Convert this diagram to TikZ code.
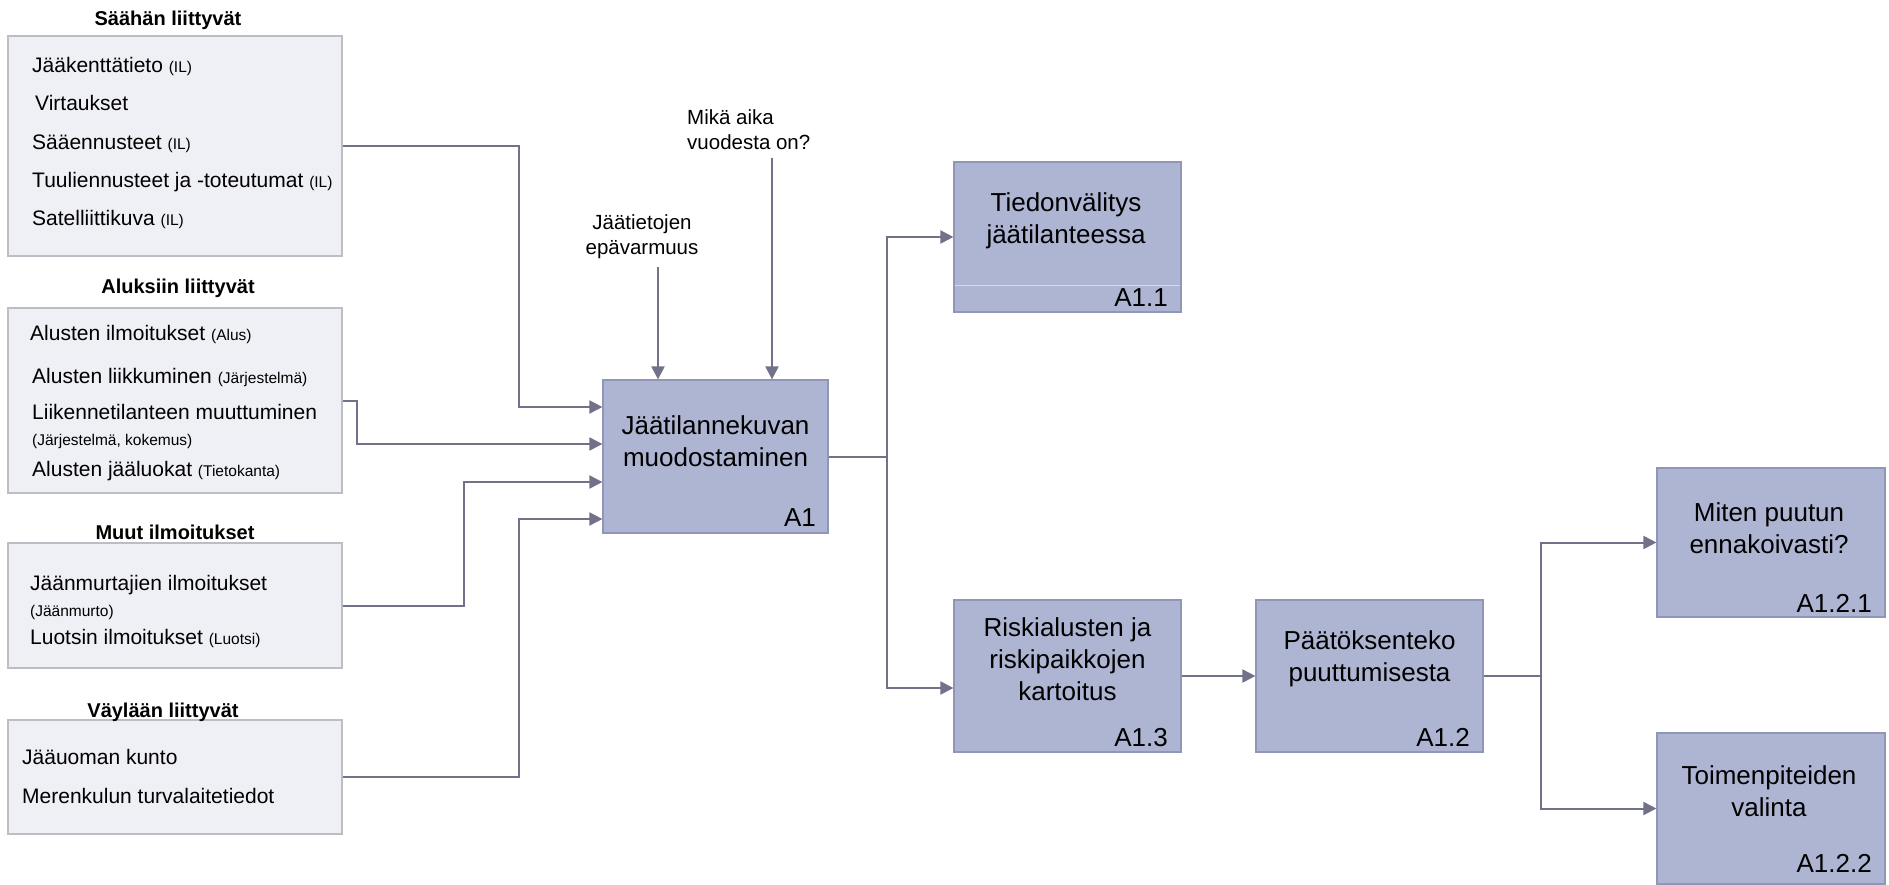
\documentclass[tikz,border=0pt]{standalone}
\usepackage{fontspec}
\setmainfont{Liberation Sans}
\usetikzlibrary{arrows.meta,calc}
\definecolor{procfill}{HTML}{AEB5D3}
\definecolor{procdraw}{HTML}{8F96B8}
\definecolor{grpfill}{HTML}{EFEFF6}
\definecolor{grpdraw}{HTML}{BDBDC6}
\definecolor{conncol}{HTML}{71718A}
\definecolor{divcol}{HTML}{D6D9EA}
\newcommand\smnote{\fontsize{15.5}{18}\selectfont}
\begin{document}
\begin{tikzpicture}[x=1pt,y=-1pt,
 proc/.style={draw=procdraw, fill=procfill, line width=1.2pt, inner sep=0pt, minimum width=227pt, minimum height=150pt},
 grp/.style={draw=grpdraw, fill=grpfill, line width=1.2pt, inner sep=0pt, minimum width=334pt},
 ptext/.style={align=center, font=\fontsize{26}{32}\selectfont, inner sep=0pt},
 plabel/.style={anchor=base east, font=\fontsize{26}{30}\selectfont, inner sep=0pt},
 grptitle/.style={font=\bfseries\fontsize{20}{24}\selectfont, inner sep=0pt},
 item/.style={anchor=base west, font=\fontsize{21}{24}\selectfont, inner sep=0pt},
 toplabel/.style={font=\fontsize{20.5}{25}\selectfont, inner sep=0pt},
 conn/.style={draw=conncol, line width=2pt, -{Triangle[length=13pt,width=13pt]}},
 plainconn/.style={draw=conncol, line width=2pt}
]
\useasboundingbox (0,0) rectangle (1889,884);
\fill[white] (0,0) rectangle (1889,884);

% group boxes
\node[grp, minimum height=220pt] (s1) at (175,146) {};
\node[grp, minimum height=185pt] (s2) at (175,400.5) {};
\node[grp, minimum height=125pt] (s3) at (175,605.5) {};
\node[grp, minimum height=114pt] (s4) at (175,777) {};

\node[grptitle] (t1) at (168,20) {Säähän liittyvät};
\node[grptitle] (t2) at (178,288) {Aluksiin liittyvät};
\node[grptitle] (t3) at (175,532) {Muut ilmoitukset};
\node[grptitle] (t4) at (163,712) {Väylään liittyvät};

\node[item] (i11) at (32,72) {Jääkenttätieto {\smnote(IL)}};
\node[item] (i12) at (35,110) {Virtaukset};
\node[item] (i13) at (32,149) {Sääennusteet {\smnote(IL)}};
\node[item] (i14) at (32,187) {Tuuliennusteet ja -toteutumat {\smnote(IL)}};
\node[item] (i15) at (32,225) {Satelliittikuva {\smnote(IL)}};

\node[item] (i21) at (30,340) {Alusten ilmoitukset {\smnote(Alus)}};
\node[item] (i22) at (32,383) {Alusten liikkuminen {\smnote(Järjestelmä)}};
\node[item] (i23) at (32,419) {Liikennetilanteen muuttuminen};
\node[item, font=\smnote] (i24) at (32,445) {(Järjestelmä, kokemus)};
\node[item] (i25) at (32,476) {Alusten jääluokat {\smnote(Tietokanta)}};

\node[item] (i31) at (30,590) {Jäänmurtajien ilmoitukset};
\node[item, font=\smnote] (i32) at (30,616) {(Jäänmurto)};
\node[item] (i33) at (30,644) {Luotsin ilmoitukset {\smnote(Luotsi)}};

\node[item] (i41) at (22,764) {Jääuoman kunto};
\node[item] (i42) at (22,803) {Merenkulun turvalaitetiedot};

% process boxes
\node[proc, minimum width=225pt, minimum height=153pt] (a1) at (715.5,456.5) {};
\node[ptext] (a1t) at (715.5,441) {Jäätilannekuvan\\muodostaminen};
\node[plabel] (a1l) at (816,526) {A1};

\node[proc] (a11) at (1067.5,237) {};
\draw[divcol, line width=1pt] (954.6,285) -- (1180.4,285);
\node[ptext] (a11t) at (1066,221) {Tiedonvälitys\\jäätilanteessa};
\node[plabel] (a11l) at (1168,306) {A1.1};

\node[proc, minimum height=152pt] (a13) at (1067.5,676) {};
\node[ptext] (a13t) at (1067.5,659) {Riskialusten ja\\riskipaikkojen\\kartoitus};
\node[plabel] (a13l) at (1168,746) {A1.3};

\node[proc, minimum height=152pt] (a12) at (1369.5,676) {};
\node[ptext] (a12t) at (1369.5,659) {Päätöksenteko\\puuttumisesta};
\node[plabel] (a12l) at (1470,746) {A1.2};

\node[proc, minimum width=228pt, minimum height=149pt] (a121) at (1771,542.5) {};
\node[ptext] (a121t) at (1769,528) {Miten puutun\\ennakoivasti?};
\node[plabel] (a121l) at (1872,612) {A1.2.1};

\node[proc, minimum width=228pt, minimum height=151pt] (a122) at (1771,808.5) {};
\node[ptext] (a122t) at (1769,791) {Toimenpiteiden\\valinta};
\node[plabel] (a122l) at (1872,872) {A1.2.2};

% top labels
\node[toplabel, align=center] (q1) at (642,237) {Jäätietojen\\epävarmuus};
\node[toplabel, align=left, anchor=west] (q2) at (687,130) {Mikä aika\\vuodesta on?};
\coordinate (q1a) at (658,267);
\coordinate (q2a) at (772,158);
\draw[conn] (q1a) -- (q1a |- a1.north);
\draw[conn] (q2a) -- (q2a |- a1.north);

% inputs
\draw[conn] (s1.east) -- ++(176,0) |- ([yshift=49.5pt]a1.west);
\draw[conn] (s2.east) -- ++(14,0) |- ([yshift=12.5pt]a1.west);
\draw[conn] (s3.east) -- ++(121,0) |- ([yshift=-25.5pt]a1.west);
\draw[conn] (s4.east) -- ++(176,0) |- ([yshift=-62.5pt]a1.west);

% outputs
\draw[plainconn] (a1.east) -- ++(58,0) coordinate (br1);
\draw[conn] (br1) |- (a11.west);
\draw[conn] (br1) |- ([yshift=-12pt]a13.west);
\draw[conn] (a13.east) -- (a12.west);
\draw[plainconn] (a12.east) -- ++(57,0) coordinate (br2);
\draw[conn] (br2) |- (a121.west);
\draw[conn] (br2) |- (a122.west);
\end{tikzpicture}
\end{document}
